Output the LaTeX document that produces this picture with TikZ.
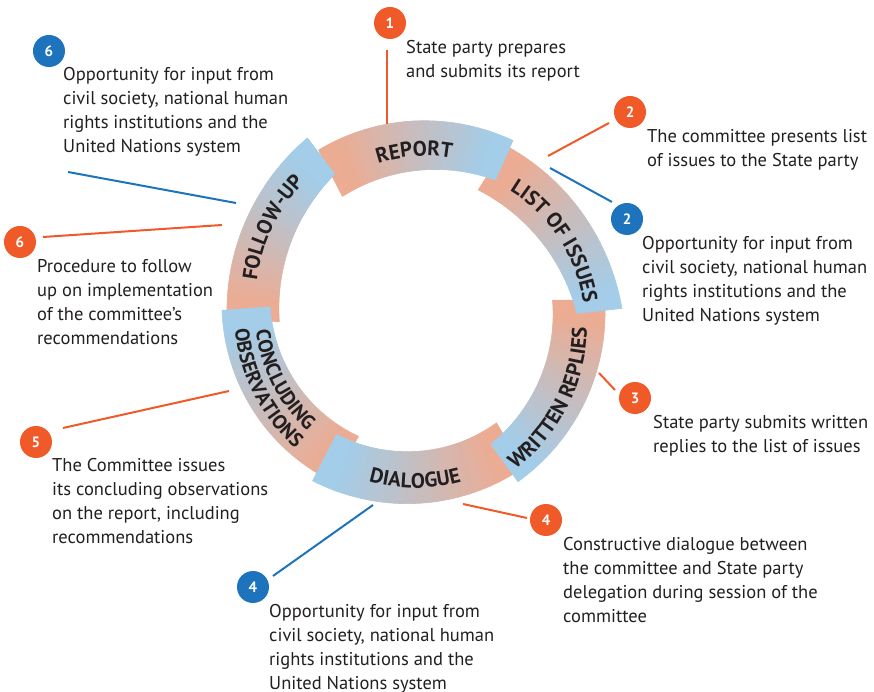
\documentclass[tikz,border=0pt]{standalone}
\usepackage{fontspec}
\setmainfont{PT Sans}
\usetikzlibrary{decorations.text}

\definecolor{ringsalmon}{RGB}{236,172,147}
\definecolor{ringblue}{RGB}{163,205,232}
\definecolor{steporange}{RGB}{240,90,41}
\definecolor{stepblue}{RGB}{29,116,188}
\definecolor{notetext}{RGB}{35,31,32}

\newcommand{\ringfont}{\fontsize{21}{21}\selectfont\bfseries}
\newcommand{\smallringfont}{\fontsize{20}{20}\selectfont\bfseries}

% one piece of the ring: start angle, end angle, inner shift, outer shift, first slice
\newcommand{\ringpiece}[5]{%
  \foreach \k in {#5,...,39}{%
    \pgfmathsetmacro{\ta}{\k/40}%
    \pgfmathsetmacro{\tb}{(\k+1)/40}%
    \pgfmathtruncatemacro{\pct}{max(0,min(100,(\k+0.5)/40*125-12.5))}%
    \colorlet{slicecol}{ringblue!\pct!ringsalmon}%
    \fill[slicecol, draw=slicecol, line width=0.6pt, line join=round]
      ({(#1)+((#2)-(#1))*\ta}:{189+(#4)*\ta*\ta})
      -- ({(#1)+((#2)-(#1))*\tb}:{189+(#4)*\tb*\tb})
      -- ({(#1)+1.5+((#2)-(#1)-3)*\tb}:{137+(#3)*\tb*\tb})
      -- ({(#1)+1.5+((#2)-(#1)-3)*\ta}:{137+(#3)*\ta*\ta})
      -- cycle;
  }%
}

\tikzset{
  numdot/.style={circle, minimum size=32pt, inner sep=0pt, text=white,
    font=\fontsize{15}{15}\selectfont\bfseries},
  orangedot/.style={numdot, fill=steporange},
  bluedot/.style={numdot, fill=stepblue},
  orangeline/.style={draw=steporange, line width=2pt},
  blueline/.style={draw=stepblue, line width=2pt},
  note/.style={anchor=north west, inner sep=0pt, align=left, text=notetext,
    font=\fontsize{18.5}{24}\selectfont},
  ringlabel/.style={decorate, decoration={text along path, text align=center,
    text color=notetext, text={#1}}},
}

\begin{document}
\begin{tikzpicture}[x=1pt, y=1pt]
\useasboundingbox (-416,-380) rectangle (458,312);

% ring, each blue end lying on the next piece
\ringpiece{-177.5}{-238}{23}{16}{0}   % follow-up
\ringpiece{-116.3}{-180.5}{9}{5}{0}   % concluding observations
\ringpiece{-55.5}{-121.5}{9}{9}{0}    % dialogue
\ringpiece{3.5}{-59}{15}{9}{0}        % written replies
\ringpiece{61.5}{1}{24}{17}{0}        % list of issues
\ringpiece{121}{60.5}{17}{8}{0}       % report
\ringpiece{-177.5}{-238}{23}{16}{28}  % follow-up end again

% labels on the ring
\path[ringlabel={|\ringfont|REPORT}] plot[domain=142:42, samples=60] (\x:{153+(104.8-\x)*0.185});
\path[ringlabel={|\ringfont|LIST OF ISSUES}] plot[domain=75:-17, samples=60] (\x:{153.6+(50.6-\x)*0.296});
\path[ringlabel={|\ringfont|WRITTEN REPLIES}] plot[domain=-75:14, samples=60] (\x:{185-(\x+53.5)*0.281});
\path[ringlabel={|\ringfont|DIALOGUE}] plot[domain=-140:-40.6, samples=60] (\x:176);
\path[ringlabel={|\smallringfont|CONCLUDING}] plot[domain=162:252, samples=60] (\x:161);
\path[ringlabel={|\smallringfont|OBSERVATIONS}] plot[domain=162:252, samples=60] (\x:182);
\path[ringlabel={|\ringfont|FOLLOW-UP}] plot[domain=196:106, samples=60] (\x:{162+(169.1-\x)*0.238});

% numbered dots
\node[orangedot] (d1) at (-26,289) {1};
\node[orangedot] (d2o) at (214,200) {2};
\node[bluedot] (d2b) at (211,93) {2};
\node[orangedot] (d3) at (219,-86) {3};
\node[orangedot] (d4o) at (130,-208) {4};
\node[bluedot] (d4b) at (-163,-275) {4};
\node[orangedot] (d5) at (-380,-130) {5};
\node[orangedot] (d6o) at (-396,70) {6};
\node[bluedot] (d6b) at (-367,261) {6};

% notes
\node[note] (t1) at (-10,275.8) {\strut State party prepares\\and submits its report};
\node[note] (t2o) at (231,186.8) {\strut The committee presents list\\of issues to the State party};
\node[note] (t2b) at (226,79.8) {\strut Opportunity for input from\\civil society, national human\\rights institutions and the\\United Nations system};
\node[note] (t3) at (237,-99.2) {\strut State party submits written\\replies to the list of issues};
\node[note] (t4o) at (147,-221.2) {\strut Constructive dialogue between\\the committee and State party\\delegation during session of the\\committee};
\node[note] (t4b) at (-147,-288.2) {\strut Opportunity for input from\\civil society, national human\\rights institutions and the\\United Nations system};
\node[note] (t5) at (-364,-142.2) {\strut The Committee issues\\its concluding observations\\on the report, including\\recommendations};
\node[note] (t6o) at (-379,56.8) {\strut Procedure to follow\\up on implementation\\of the committee’s\\recommendations};
\node[note] (t6b) at (-353,248.8) {\strut Opportunity for input from\\civil society, national human\\rights institutions and the\\United Nations system};

% pointers to the ring
\coordinate (l1a) at (-29,262);   \coordinate (l1b) at (-29,188);
\coordinate (l2oa) at (193,189);  \coordinate (l2ob) at (132,156);
\coordinate (l2ba) at (196,110);  \coordinate (l2bb) at (134,144);
\coordinate (l3a) at (199,-78);   \coordinate (l3b) at (183,-61);
\coordinate (l4oa) at (111,-206); \coordinate (l4ob) at (47,-192);
\coordinate (l4ba) at (-143,-264);\coordinate (l4bb) at (-43,-193);
\coordinate (l5a) at (-353,-116); \coordinate (l5b) at (-187,-79);
\coordinate (l6oa) at (-373,75);  \coordinate (l6ob) at (-194,87);
\coordinate (l6ba) at (-348,140); \coordinate (l6bb) at (-180,109);
\draw[orangeline] (l1a) -- (l1b);
\draw[orangeline] (l2oa) -- (l2ob);
\draw[blueline] (l2ba) -- (l2bb);
\draw[orangeline] (l3a) -- (l3b);
\draw[orangeline] (l4oa) -- (l4ob);
\draw[blueline] (l4ba) -- (l4bb);
\draw[orangeline] (l5a) -- (l5b);
\draw[orangeline] (l6oa) -- (l6ob);
\draw[blueline] (l6ba) -- (l6bb);
\end{tikzpicture}
\end{document}
